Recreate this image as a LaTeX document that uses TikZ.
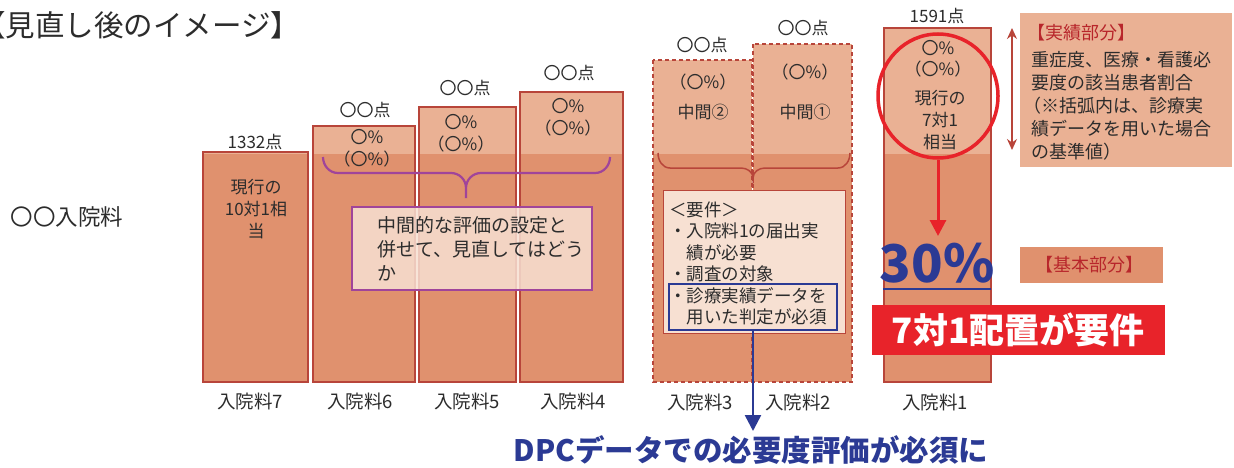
\documentclass[tikz,border=0pt]{standalone}
\usepackage{fontspec}
\setmainfont{Noto Sans CJK JP}
\usetikzlibrary{arrows.meta,shapes.geometric}
\definecolor{barfill}{HTML}{E0916E}
\definecolor{lightfill}{HTML}{EAB194}
\definecolor{bordercol}{HTML}{B8453A}
\definecolor{reqfill}{HTML}{F7E0D2}
\definecolor{purp}{HTML}{A0449A}
\definecolor{navy}{HTML}{2B3A94}
\definecolor{redc}{HTML}{E8232A}
\definecolor{txt}{HTML}{2C2C2C}
\definecolor{rtext}{HTML}{B8262B}
\newcommand\myfs[2]{\fontsize{#1}{#2}\selectfont}
\newcommand\mybar[4]{%
  \fill[lightfill] (#1,#3) rectangle (#2,154);
  \fill[barfill] (#1,154) rectangle (#2,382);
  \draw[#4] (#1,#3) rectangle (#2,382);}
\begin{document}
\begin{tikzpicture}[x=1pt,y=-1pt,
  every node/.style={inner sep=0pt,text=txt},
  barline/.style={draw=bordercol,line width=1.5pt},
  dashline/.style={draw=bordercol,line width=1.5pt,dash pattern=on 4pt off 3pt},
  pts/.style={font=\myfs{17}{20}},
  bartxt/.style={font=\myfs{17}{22},align=center},
  botlbl/.style={font=\myfs{18.5}{20}},
  boxtxt/.style={align=left,anchor=west}]
\useasboundingbox (0,0) rectangle (1234,468);
\fill[white] (0,0) rectangle (1234,468);

% title and left label
\node[anchor=west,font=\myfs{29.5}{32}] (title) at (-24,25) {【見直し後のイメージ】};
\node[font=\myfs{22.5}{24}] (kind) at (67,217) {〇〇入院料};

% bars
\mybar{203}{308}{152}{barline}
\mybar{313}{415}{126}{barline}
\mybar{419}{516}{107}{barline}
\mybar{520}{623}{92}{barline}
\mybar{653}{752}{60}{dashline}
\mybar{753}{852}{44}{dashline}
\mybar{884}{991}{28}{barline}

% braces
\draw[purp,line width=2.2pt] (323,157) to[out=-90,in=180] (338,173) -- (451,173)
  to[out=0,in=90] (466,188) -- (466,198) (466,188) to[out=90,in=180] (481,173)
  -- (595,173) to[out=0,in=-90] (610,157);
\draw[bordercol,line width=1.5pt] (658,153) to[out=-90,in=180] (670,168) -- (741,168)
  to[out=0,in=90] (753,178) -- (753,183) (753,178) to[out=90,in=180] (765,168)
  -- (838,168) to[out=0,in=-90] (850,153);

% bar labels
\node[pts] (p7) at (255,142) {1332点};
\node[bartxt] (t7) at (256,209) {現行の\\10対1相\\当};
\node[pts] (p6) at (365,110) {〇〇点};
\node[bartxt] (r6) at (367,148) {〇\%\\（〇\%）};
\node[pts] (p5) at (465,88) {〇〇点};
\node[bartxt] (r5) at (461,133) {〇\%\\（〇\%）};
\node[pts] (p4) at (569,73) {〇〇点};
\node[bartxt] (r4) at (568,117) {〇\%\\（〇\%）};
\node[pts] (p3) at (702,45) {〇〇点};
\node[bartxt] (r3) at (703,82) {（〇\%）};
\node[bartxt] (m3) at (703,112) {中間②};
\node[pts] (p2) at (803,28) {〇〇点};
\node[bartxt] (r2) at (805,72) {（〇\%）};
\node[bartxt] (m2) at (805,112) {中間①};
\node[pts] (p1) at (937,16) {1591点};
\node[bartxt,font=\myfs{17}{21}] (r1) at (938,58.5) {〇\%\\（〇\%）};
\node[bartxt,font=\myfs{17}{22}] (t1) at (940,120) {現行の\\7対1\\相当};

% purple box
\node[draw=purp,line width=2.5pt,fill=reqfill,fill opacity=0.85,minimum width=240pt,minimum height=83pt] (midbox) at (472,248.5) {};
\node[boxtxt,font=\myfs{19}{24}] (midtxt) at (377,249) {中間的な評価の設定と\\併せて、見直してはどう\\か};

% requirement box
\node[draw=bordercol,line width=1pt,fill=reqfill,minimum width=182pt,minimum height=143pt] (req) at (754,261.5) {};
\node[boxtxt,font=\myfs{17.5}{21.4}] (reqtxt) at (669,263.5) {＜要件＞\\・入院料1の届出実\\\hspace*{17.5pt}績が必要\\・調査の対象\\・診療実績データを\\\hspace*{17.5pt}用いた判定が必須};
\node[draw=navy,line width=2.5pt,minimum width=168pt,minimum height=46pt] (bluebox) at (753,307) {};

% bottom labels
\node[botlbl] (l7) at (250,401) {入院料7};
\node[botlbl] (l6) at (360,401) {入院料6};
\node[botlbl] (l5) at (467,401) {入院料5};
\node[botlbl] (l4) at (573,401) {入院料4};
\node[botlbl] (l3) at (700,402) {入院料3};
\node[botlbl] (l2) at (798,402) {入院料2};
\node[botlbl] (l1) at (935,402) {入院料1};

% DPC text and arrow
\node[font=\myfs{29.5}{31}\bfseries,text=navy] (dpc) at (751,450) {DPCデータでの必要度評価が必須に};
\coordinate (dpctip) at (753,431);
\draw[navy,line width=2.5pt,-{Triangle[length=16pt,width=16pt]}] (bluebox.south) -- (dpctip);

% circle and 30%
\node[draw=redc,line width=3.5pt,ellipse,minimum width=120pt,minimum height=124pt] (circ) at (938,96) {};
\node[font=\myfs{52}{54}\bfseries,text=navy] (pct) at (937,263) {30\%};
\coordinate (pcttip) at (938,236);
\draw[redc,line width=3pt,-{Triangle[length=16pt,width=16pt]}] (circ.south) -- (pcttip);
\coordinate (ulL) at (883,289);
\coordinate (ulR) at (991,289);
\draw[navy,line width=2pt] (ulL) -- (ulR);
\node[fill=redc,minimum width=293pt,minimum height=50pt] (redbox) at (1018.5,330) {};
\node[font=\myfs{35}{36}\bfseries,text=white] (redtxt) at (1018,330) {7対1配置が要件};

% right legend
\node[fill=lightfill,minimum width=212pt,minimum height=154pt] (legA) at (1126,90) {};
\node[anchor=west,font=\myfs{18}{20},text=rtext] (legAt) at (1027,33) {【実績部分】};
\node[boxtxt,font=\myfs{18}{23}] (legAb) at (1031,106) {重症度、医療・看護必\\要度の該当患者割合\\\hspace*{-8pt}（※括弧内は、診療実\\績データを用いた場合\\の基準値）};
\coordinate (daT) at (1012,28);
\coordinate (daB) at (1012,150);
\draw[{Stealth[length=11pt,width=10pt]}-{Stealth[length=11pt,width=10pt]},draw=bordercol,line width=1.3pt] (daT) -- (daB);
\node[fill=barfill,minimum width=143pt,minimum height=36pt] (legB) at (1091.5,265) {};
\node[font=\myfs{18}{20},text=rtext] (legBt) at (1089,265) {【基本部分】};
\end{tikzpicture}
\end{document}
